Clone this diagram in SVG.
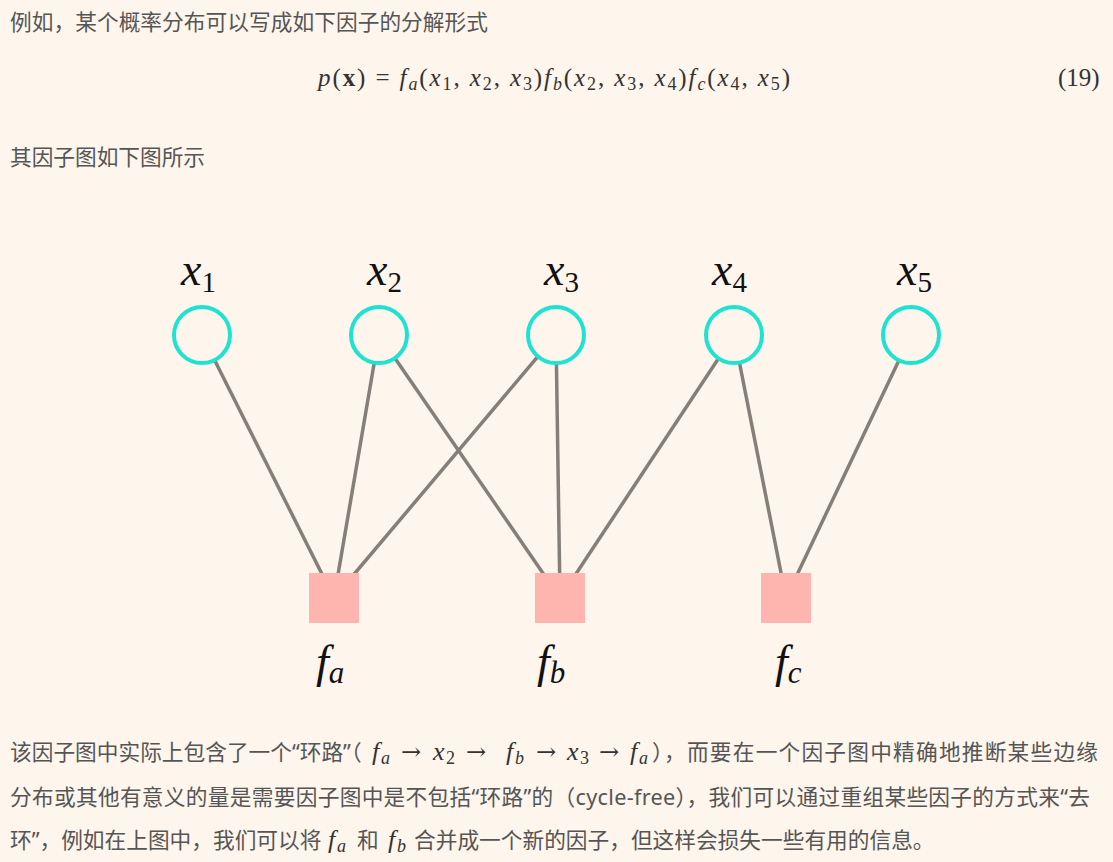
<svg xmlns="http://www.w3.org/2000/svg" width="1113" height="862" viewBox="0 0 1113 862">
<style>
.bg{fill:#fef5ed}
.cn{font-family:"Noto Sans","Noto Sans CJK SC",sans-serif;font-size:21.7px;fill:#555}
.m{font-family:"Liberation Serif","DejaVu Serif",serif;fill:#333}
.mi{font-style:italic}
.eq{font-size:25px}
.im{font-size:26px}
.sub{font-size:18px}
.ar{font-family:"DejaVu Serif",serif;font-size:24px}
.lbl{font-family:"Liberation Serif","DejaVu Serif",serif;font-size:46px;fill:#111;font-style:italic}
.lsub{font-size:29px;font-style:normal}
.fsub{font-size:31px}
.var{fill:#fef5ed;stroke:#1fe3d1;stroke-width:4}
.fac{fill:#ffb5af}
.edge{stroke:#857f7a;stroke-width:3.5;fill:none}
</style>
<rect class="bg" x="0" y="0" width="1113" height="862"/>
<text class="cn" x="10" y="30" textLength="478">例如，某个概率分布可以写成如下因子的分解形式</text>
<text class="m eq" x="318" y="86" textLength="472"><tspan class="mi">p</tspan>(<tspan font-weight="bold">x</tspan>) = <tspan class="mi">f</tspan><tspan class="mi sub" dy="4">a</tspan><tspan dy="-4">(</tspan><tspan class="mi">x</tspan><tspan class="sub" dy="4">1</tspan><tspan dy="-4">, </tspan><tspan class="mi">x</tspan><tspan class="sub" dy="4">2</tspan><tspan dy="-4">, </tspan><tspan class="mi">x</tspan><tspan class="sub" dy="4">3</tspan><tspan dy="-4">)</tspan><tspan class="mi">f</tspan><tspan class="mi sub" dy="4">b</tspan><tspan dy="-4">(</tspan><tspan class="mi">x</tspan><tspan class="sub" dy="4">2</tspan><tspan dy="-4">, </tspan><tspan class="mi">x</tspan><tspan class="sub" dy="4">3</tspan><tspan dy="-4">, </tspan><tspan class="mi">x</tspan><tspan class="sub" dy="4">4</tspan><tspan dy="-4">)</tspan><tspan class="mi">f</tspan><tspan class="mi sub" dy="4">c</tspan><tspan dy="-4">(</tspan><tspan class="mi">x</tspan><tspan class="sub" dy="4">4</tspan><tspan dy="-4">, </tspan><tspan class="mi">x</tspan><tspan class="sub" dy="4">5</tspan><tspan dy="-4">)</tspan></text>
<text class="m eq" x="1058" y="86">(19)</text>
<text class="cn" x="10" y="165" textLength="195">其因子图如下图所示</text>
<g id="edges">
<line class="edge" x1="202" y1="335" x2="334" y2="598"/>
<line class="edge" x1="379" y1="335" x2="334" y2="598"/>
<line class="edge" x1="379" y1="335" x2="560" y2="598"/>
<line class="edge" x1="556" y1="335" x2="334" y2="598"/>
<line class="edge" x1="556" y1="335" x2="560" y2="598"/>
<line class="edge" x1="734" y1="335" x2="560" y2="598"/>
<line class="edge" x1="734" y1="335" x2="786" y2="598"/>
<line class="edge" x1="911" y1="335" x2="786" y2="598"/>
</g>
<g id="x1"><circle class="var" cx="202" cy="335" r="28"/><text class="lbl" x="181" y="285">x<tspan class="lsub" dy="7">1</tspan></text></g>
<g id="x2"><circle class="var" cx="379" cy="335" r="28"/><text class="lbl" x="367" y="285">x<tspan class="lsub" dy="7">2</tspan></text></g>
<g id="x3"><circle class="var" cx="556" cy="335" r="28"/><text class="lbl" x="544" y="285">x<tspan class="lsub" dy="7">3</tspan></text></g>
<g id="x4"><circle class="var" cx="734" cy="335" r="28"/><text class="lbl" x="712" y="285">x<tspan class="lsub" dy="7">4</tspan></text></g>
<g id="x5"><circle class="var" cx="911" cy="335" r="28"/><text class="lbl" x="897" y="285">x<tspan class="lsub" dy="7">5</tspan></text></g>
<g id="fa"><rect class="fac" x="309" y="573" width="50" height="50"/><text class="lbl" x="316" y="677">f<tspan class="fsub" dy="6">a</tspan></text></g>
<g id="fb"><rect class="fac" x="535" y="573" width="50" height="50"/><text class="lbl" x="537" y="677">f<tspan class="fsub" dy="6">b</tspan></text></g>
<g id="fc"><rect class="fac" x="761" y="573" width="50" height="50"/><text class="lbl" x="775" y="677">f<tspan class="fsub" dy="6">c</tspan></text></g>
<text class="cn" x="10" y="760">该因子图中实际上包含了一个“环路”（</text>
<text class="m im"><tspan class="mi" x="372" y="760">f</tspan><tspan class="mi sub" x="381" y="764">a</tspan><tspan class="ar" x="401" y="760">→</tspan><tspan class="mi" x="433" y="760">x</tspan><tspan class="sub" x="446" y="764">2</tspan><tspan class="ar" x="466" y="760">→</tspan><tspan class="mi" x="506" y="760">f</tspan><tspan class="mi sub" x="515" y="764">b</tspan><tspan class="ar" x="536" y="760">→</tspan><tspan class="mi" x="567" y="760">x</tspan><tspan class="sub" x="580" y="764">3</tspan><tspan class="ar" x="599" y="760">→</tspan><tspan class="mi" x="630" y="760">f</tspan><tspan class="mi sub" x="639" y="764">a</tspan></text>
<text class="cn" x="652" y="760" textLength="446">），而要在一个因子图中精确地推断某些边缘</text>
<text class="cn" x="10" y="805" textLength="1080">分布或其他有意义的量是需要因子图中是不包括“环路”的（cycle-free），我们可以通过重组某些因子的方式来“去</text>
<text class="cn" x="10" y="848">环”，例如在上图中，我们可以将</text>
<text class="m im"><tspan class="mi" x="328" y="848">f</tspan><tspan class="mi sub" x="337" y="852">a</tspan><tspan class="mi" x="388" y="848">f</tspan><tspan class="mi sub" x="397" y="852">b</tspan></text>
<text class="cn" x="357" y="848">和</text>
<text class="cn" x="414" y="848">合并成一个新的因子，但这样会损失一些有用的信息。</text>
</svg>
